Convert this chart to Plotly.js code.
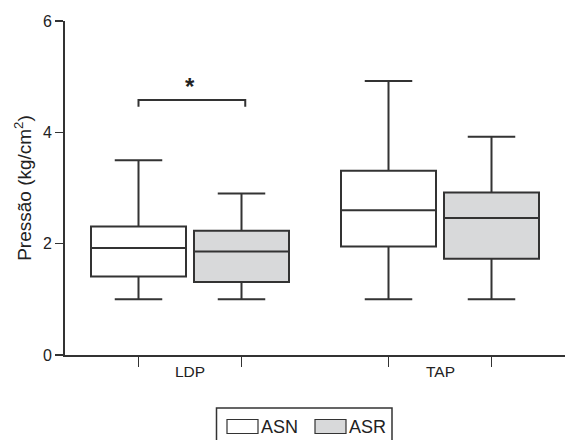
<!DOCTYPE html>
<html>
<head>
<meta charset="utf-8">
<script src="https://cdn.plot.ly/plotly-3.0.1.min.js"></script>
<style>html,body{margin:0;padding:0;background:#fff;}#chart{width:565px;height:440px;}</style>
</head>
<body>
<div id="chart"></div>
<script>
// ---- data ----
var categories = ['LDP', 'TAP'];
var seriesNames = ['ASN', 'ASR'];
var asnLower  = [1.00, 1.00];
var asnQ1     = [1.41, 1.95];
var asnMedian = [1.92, 2.60];
var asnQ3     = [2.31, 3.31];
var asnUpper  = [3.50, 4.92];
var asrLower  = [1.00, 1.00];
var asrQ1     = [1.31, 1.73];
var asrMedian = [1.86, 2.46];
var asrQ3     = [2.23, 2.92];
var asrUpper  = [2.90, 3.92];
var yTicks = [0, 2, 4, 6];
var sigGroup = ['LDP'];
var sigLabel = ['*'];
var sigLevel = [4.58];

// ---- style ----
var lineCol = '#333333';
var textCol = '#222222';
var fontFam = 'Liberation Sans, Arial, sans-serif';
var fills = ['#ffffff', '#d8d9da'];
var offset = 0.206;
var boxW = 0.38;
var W = 565, H = 440, ML = 65, MR = 0, MT = 21, MB = 85;
var PW = W - ML - MR, PH = H - MT - MB;
function px(x) { return (x - ML) / PW; }
function py(y) { return (H - MB - y) / PH; }

var idx = categories.map(function (c, i) { return i; });
var pos0 = idx.map(function (i) { return i - offset; });
var pos1 = idx.map(function (i) { return i + offset; });

function boxTrace(name, pos, lo, q1, med, q3, hi, fill) {
  return {
    type: 'box', name: name, x: pos,
    lowerfence: lo, q1: q1, median: med, q3: q3, upperfence: hi,
    width: boxW, whiskerwidth: 0.5,
    fillcolor: fill, line: {color: lineCol, width: 2},
    boxpoints: false, showlegend: false, hoverinfo: 'skip'
  };
}

var data = [
  boxTrace(seriesNames[0], pos0, asnLower, asnQ1, asnMedian, asnQ3, asnUpper, fills[0]),
  boxTrace(seriesNames[1], pos1, asrLower, asrQ1, asrMedian, asrQ3, asrUpper, fills[1])
];

var shapes = [];
var annotations = [];

// category labels
categories.forEach(function (c, i) {
  annotations.push({x: i, xref: 'x', y: py(371), yref: 'paper', text: c, showarrow: false,
    xanchor: 'center', yanchor: 'middle', font: {family: fontFam, size: 15.5, color: textCol}});
});

// significance bracket
sigGroup.forEach(function (g, k) {
  var i = categories.indexOf(g);
  var a = i - offset, b = i + offset + 0.015, yv = sigLevel[k], d = 0.12;
  shapes.push({type: 'path', xref: 'x', yref: 'y',
    path: 'M' + a + ',' + (yv - d) + ' L' + a + ',' + yv + ' L' + b + ',' + yv + ' L' + b + ',' + (yv - d),
    line: {color: lineCol, width: 2}});
  annotations.push({x: i, xref: 'x', y: yv + 0.25, yref: 'y', text: '<b>' + sigLabel[k] + '</b>', showarrow: false,
    xanchor: 'center', yanchor: 'middle', font: {family: fontFam, size: 24, color: textCol}});
});

// legend
shapes.push({type: 'rect', xref: 'paper', yref: 'paper', x0: px(216.5), x1: px(392), y0: py(408), y1: py(450),
  line: {color: lineCol, width: 1.5}, fillcolor: 'rgba(0,0,0,0)'});
var legX = [227, 315];
seriesNames.forEach(function (n, k) {
  shapes.push({type: 'rect', xref: 'paper', yref: 'paper', x0: px(legX[k]), x1: px(legX[k] + 31), y0: py(419.5), y1: py(433.5),
    line: {color: lineCol, width: 1.2}, fillcolor: fills[k]});
  annotations.push({x: px(legX[k] + 32), xref: 'paper', y: py(427), yref: 'paper', text: n, showarrow: false,
    xanchor: 'left', yanchor: 'middle', font: {family: fontFam, size: 18, color: textCol}});
});

var layout = {
  width: W, height: H,
  margin: {l: ML, r: MR, t: MT, b: MB, pad: 0},
  paper_bgcolor: '#fff', plot_bgcolor: '#fff',
  showlegend: false,
  xaxis: {range: [-0.5, 1.5], showline: true, linecolor: lineCol, linewidth: 2,
    tickvals: pos0.concat(pos1), ticks: 'outside', ticklen: 10, tickwidth: 1.5, tickcolor: lineCol,
    showticklabels: false, showgrid: false, zeroline: false, fixedrange: true},
  yaxis: {range: [0, 6], showline: true, linecolor: lineCol, linewidth: 2,
    tickvals: yTicks, ticks: 'outside', ticklen: 8, tickwidth: 1.5, tickcolor: lineCol,
    tickfont: {family: fontFam, size: 16, color: textCol},
    showgrid: false, zeroline: false, fixedrange: true,
    title: {text: 'Pressão (kg/cm<sup>2</sup>)', font: {family: fontFam, size: 19, color: textCol}, standoff: 6}},
  shapes: shapes,
  annotations: annotations
};

Plotly.newPlot('chart', data, layout, {staticPlot: true, displayModeBar: false});
</script>
</body>
</html>
